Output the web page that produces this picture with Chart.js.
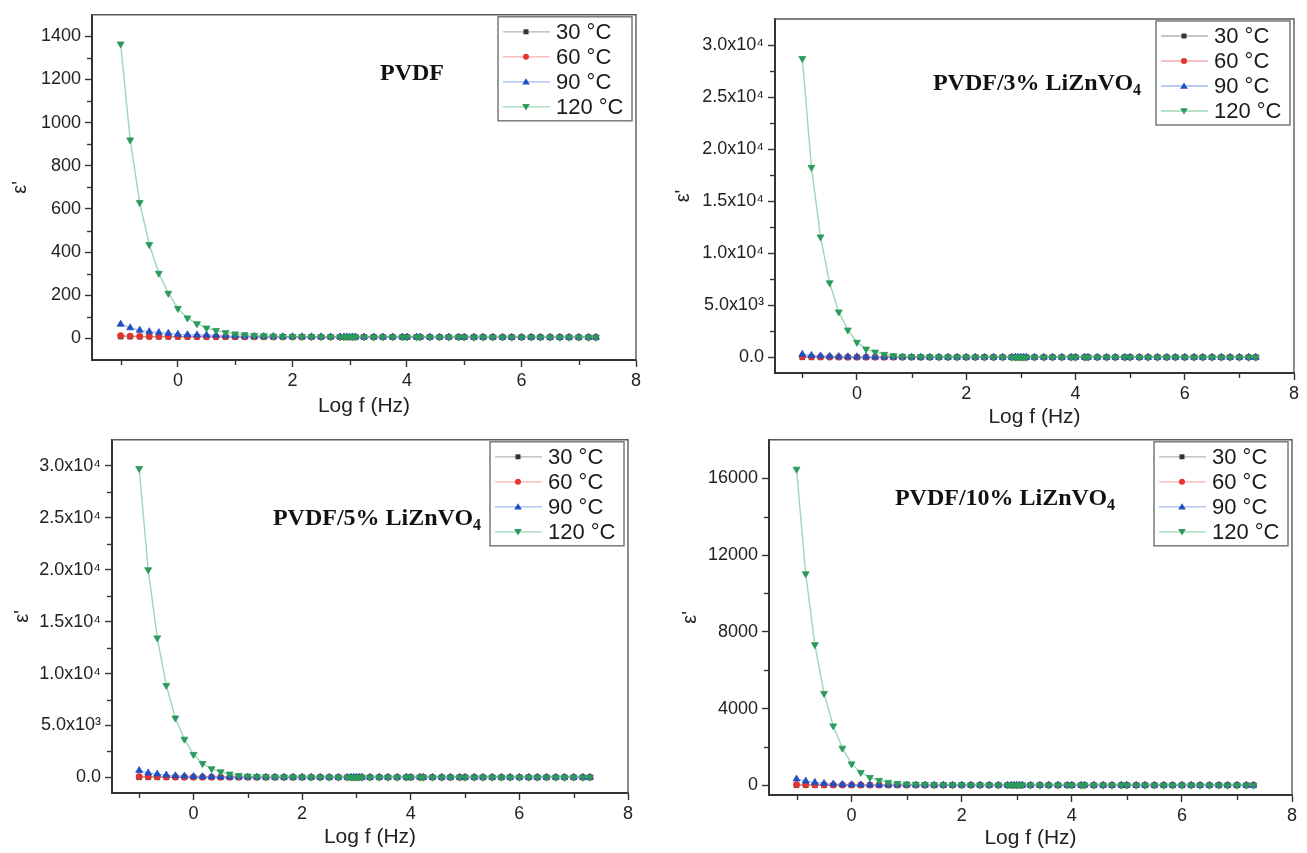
<!DOCTYPE html>
<html>
<head>
<meta charset="utf-8">
<script src="https://cdn.jsdelivr.net/npm/chart.js@4.4.1/dist/chart.umd.min.js"></script>
<style>
  html, body { margin: 0; padding: 0; background: #ffffff; }
  body { width: 1307px; height: 853px; position: relative; overflow: hidden; }
  canvas { position: absolute; }
</style>
</head>
<body>
<canvas id="c1" width="650" height="420" style="left:0px;top:0px"></canvas>
<canvas id="c2" width="657" height="432" style="left:650px;top:0px"></canvas>
<canvas id="c3" width="650" height="428" style="left:0px;top:425px"></canvas>
<canvas id="c4" width="657" height="428" style="left:650px;top:425px"></canvas>
<script>
// ---- frequency axis (log10 of f in Hz) ----
const logF = [
  -1, -0.833, -0.667, -0.5, -0.333, -0.167, 0, 0.167, 0.333, 0.5, 0.667, 0.833,
  1, 1.167, 1.333, 1.5, 1.667, 1.833, 2, 2.167, 2.333, 2.5, 2.667, 2.833,
  2.9, 2.95, 3.0, 3.05, 3.1,
  3.25, 3.42, 3.58, 3.75, 3.92, 4.0, 4.17, 4.23, 4.4, 4.57, 4.73, 4.9, 5.0,
  5.17, 5.33, 5.5, 5.67, 5.83, 6.0, 6.17, 6.33, 6.5, 6.67, 6.83, 7.0, 7.17, 7.3
];

// ---- legend labels ----
const tempLabels = ['30 °C', '60 °C', '90 °C', '120 °C'];

// ---- PVDF ----
const pvdf30 = [8.6, 8.3, 8.1, 7.9, 7.8, 7.7, 7.6, 7.5, 7.4, 7.3, 7.3, 7.2, 7.2, 7.1, 7.1, 7.0, 7.0, 6.9, 6.9, 6.9, 6.8, 6.8, 6.8, 6.7,
  6.7, 6.7, 6.6, 6.6, 6.6,
  6.5, 6.5, 6.4, 6.4, 6.4, 6.3, 6.3, 6.3, 6.2, 6.2, 6.1, 6.1, 6.0, 6.0, 5.9, 5.9, 5.8, 5.8, 5.7, 5.7, 5.6, 5.6, 5.5, 5.4, 5.3, 5.2, 5.1];
const pvdf60 = [13, 11, 10, 9.4, 9.0, 8.6, 8.3, 8.1, 7.9, 7.7, 7.6, 7.5, 7.4, 7.3, 7.2, 7.1, 7.0, 7.0, 6.9, 6.9, 6.8, 6.8, 6.7, 6.7,
  6.7, 6.7, 6.6, 6.6, 6.6,
  6.5, 6.5, 6.4, 6.4, 6.3, 6.3, 6.3, 6.2, 6.2, 6.1, 6.1, 6.0, 6.0, 6.0, 5.9, 5.9, 5.8, 5.8, 5.7, 5.7, 5.6, 5.6, 5.5, 5.4, 5.3, 5.2, 5.1];
const pvdf90 = [66, 49, 38, 31, 27, 24, 19, 17, 16, 15, 14, 12, 11, 10, 9.5, 9.0, 8.6, 8.3, 8.0, 7.8, 7.6, 7.4, 7.3, 7.2,
  7.1, 7.1, 7.0, 7.0, 6.9,
  6.8, 6.7, 6.6, 6.5, 6.4, 6.4, 6.3, 6.3, 6.2, 6.2, 6.1, 6.1, 6.0, 6.0, 5.9, 5.9, 5.8, 5.8, 5.7, 5.7, 5.6, 5.5, 5.5, 5.4, 5.3, 5.2, 5.1];
const pvdf120 = [1365, 920, 630, 435, 302, 209, 139, 95, 68, 48, 37, 27, 21, 17, 14, 12, 10.5, 9.6, 8.9, 8.4, 8.0, 7.7, 7.5, 7.3,
  7.2, 7.2, 7.1, 7.1, 7.0,
  6.9, 6.8, 6.7, 6.6, 6.5, 6.5, 6.4, 6.4, 6.3, 6.2, 6.2, 6.1, 6.1, 6.0, 6.0, 5.9, 5.9, 5.8, 5.8, 5.7, 5.7, 5.6, 5.5, 5.5, 5.4, 5.3, 5.2];

// ---- PVDF / 3% LiZnVO4 ----
const lz3_30 = [12, 11.6, 11.3, 11.1, 10.9, 10.8, 10.7, 10.6, 10.5, 10.4, 10.3, 10.3, 10.2, 10.2, 10.1, 10.1, 10, 10, 9.9, 9.9, 9.9, 9.8, 9.8, 9.8,
  9.7, 9.7, 9.7, 9.7, 9.6,
  9.6, 9.5, 9.5, 9.4, 9.4, 9.4, 9.3, 9.3, 9.2, 9.2, 9.1, 9.1, 9.0, 9.0, 8.9, 8.9, 8.8, 8.8, 8.7, 8.7, 8.6, 8.6, 8.5, 8.4, 8.3, 8.2, 8.1];
const lz3_60 = [60, 45, 36, 30, 26, 23, 21, 19, 18, 17, 16, 15.5, 15, 14.6, 14.2, 13.9, 13.6, 13.4, 13.2, 13, 12.8, 12.7, 12.6, 12.5,
  12.4, 12.4, 12.3, 12.3, 12.2,
  12.1, 12, 11.9, 11.8, 11.7, 11.7, 11.6, 11.5, 11.4, 11.3, 11.2, 11.1, 11, 10.9, 10.8, 10.7, 10.6, 10.5, 10.4, 10.3, 10.2, 10.1, 10, 9.9, 9.8, 9.7, 9.5];
const lz3_90 = [290, 190, 140, 105, 80, 64, 52, 44, 38, 33, 30, 27, 25, 23, 22, 21, 20, 19, 18, 17.5, 17, 16.5, 16, 15.5,
  15.4, 15.3, 15.2, 15.1, 15,
  14.8, 14.5, 14.2, 14, 13.8, 13.7, 13.5, 13.4, 13.2, 13, 12.8, 12.6, 12.5, 12.3, 12.1, 12, 11.8, 11.6, 11.5, 11.3, 11.1, 11, 10.8, 10.6, 10.4, 10.2, 10];
const lz3_120 = [28700, 18250, 11570, 7160, 4370, 2630, 1450, 800, 510, 290, 160, 96, 70, 55, 45, 38, 33, 30, 27, 25, 23, 22, 21, 20,
  20, 19, 19, 19, 18,
  18, 17, 17, 16, 16, 16, 15, 15, 15, 14, 14, 14, 14, 13, 13, 13, 13, 12, 12, 12, 12, 11, 11, 11, 11, 10, 10];

// ---- PVDF / 5% LiZnVO4 ----
const lz5_30 = [13, 12.6, 12.3, 12.1, 11.9, 11.8, 11.7, 11.6, 11.5, 11.4, 11.3, 11.3, 11.2, 11.2, 11.1, 11.1, 11, 11, 10.9, 10.9, 10.9, 10.8, 10.8, 10.8,
  10.7, 10.7, 10.7, 10.6, 10.6,
  10.6, 10.5, 10.5, 10.4, 10.4, 10.4, 10.3, 10.3, 10.2, 10.2, 10.1, 10.1, 10, 10, 9.9, 9.9, 9.8, 9.8, 9.7, 9.7, 9.6, 9.6, 9.5, 9.4, 9.3, 9.2, 9.1];
const lz5_60 = [90, 65, 50, 40, 33, 28, 25, 22, 20, 19, 18, 17, 16.5, 16, 15.5, 15, 14.7, 14.4, 14.2, 14, 13.8, 13.6, 13.5, 13.4,
  13.3, 13.3, 13.2, 13.2, 13.1,
  13, 12.9, 12.8, 12.7, 12.6, 12.6, 12.5, 12.4, 12.3, 12.2, 12.1, 12, 11.9, 11.8, 11.7, 11.6, 11.5, 11.4, 11.3, 11.2, 11.1, 11, 10.9, 10.8, 10.7, 10.6, 10.4];
const lz5_90 = [670, 420, 320, 225, 160, 128, 96, 75, 60, 50, 43, 38, 34, 31, 28, 26, 24, 23, 22, 21, 20, 19.5, 19, 18.5,
  18.3, 18.2, 18, 17.9, 17.8,
  17.5, 17.2, 17, 16.7, 16.5, 16.4, 16.2, 16.1, 15.9, 15.7, 15.5, 15.3, 15.2, 15, 14.8, 14.6, 14.4, 14.2, 14, 13.8, 13.6, 13.4, 13.2, 13, 12.8, 12.6, 12.4];
const lz5_120 = [29740, 19990, 13430, 8860, 5720, 3680, 2210, 1340, 830, 540, 320, 190, 120, 85, 65, 52, 44, 38, 34, 31, 28, 26, 25, 24,
  23, 23, 22, 22, 22,
  21, 20, 20, 19, 19, 18, 18, 18, 17, 17, 16, 16, 16, 15, 15, 15, 14, 14, 14, 13, 13, 13, 12, 12, 12, 11, 11];

// ---- PVDF / 10% LiZnVO4 ----
const lz10_30 = [11.5, 11.2, 11, 10.8, 10.7, 10.6, 10.5, 10.4, 10.3, 10.3, 10.2, 10.2, 10.1, 10.1, 10, 10, 9.9, 9.9, 9.9, 9.8, 9.8, 9.8, 9.7, 9.7,
  9.7, 9.6, 9.6, 9.6, 9.6,
  9.5, 9.5, 9.4, 9.4, 9.4, 9.3, 9.3, 9.3, 9.2, 9.2, 9.1, 9.1, 9, 9, 8.9, 8.9, 8.8, 8.8, 8.7, 8.7, 8.6, 8.6, 8.5, 8.4, 8.3, 8.2, 8.1];
const lz10_60 = [40, 32, 27, 23, 21, 19, 18, 17, 16, 15.5, 15, 14.6, 14.2, 13.9, 13.6, 13.4, 13.2, 13, 12.9, 12.8, 12.7, 12.6, 12.5, 12.4,
  12.3, 12.3, 12.3, 12.2, 12.2,
  12.1, 12, 11.9, 11.8, 11.7, 11.7, 11.6, 11.5, 11.4, 11.3, 11.2, 11.1, 11, 10.9, 10.8, 10.7, 10.6, 10.5, 10.4, 10.3, 10.2, 10.1, 10, 9.9, 9.8, 9.7, 9.5];
const lz10_90 = [330, 225, 156, 104, 70, 52, 38, 31, 27, 24, 22, 20, 19, 18, 17, 16.5, 16, 15.5, 15, 14.7, 14.4, 14.1, 13.9, 13.7,
  13.6, 13.6, 13.5, 13.5, 13.4,
  13.2, 13, 12.9, 12.7, 12.6, 12.5, 12.4, 12.3, 12.2, 12.1, 12, 11.9, 11.8, 11.7, 11.6, 11.5, 11.4, 11.3, 11.2, 11.1, 11, 10.9, 10.8, 10.7, 10.6, 10.5, 10.3];
const lz10_120 = [16470, 11020, 7330, 4790, 3100, 1940, 1120, 675, 415, 260, 156, 104, 75, 58, 47, 40, 35, 31, 28, 26, 24, 23, 22, 21,
  21, 20, 20, 20, 19,
  19, 18, 18, 17, 17, 17, 16, 16, 16, 15, 15, 15, 14, 14, 14, 13, 13, 13, 12, 12, 12, 11, 11, 11, 10, 10, 10];

// ---- tick values and labels ----
const xTickValues = [0, 2, 4, 6, 8];
const xTickLabels = ['0', '2', '4', '6', '8'];
const xMinorTicks = [-1, 1, 3, 5, 7];

const yTicksPVDF = [0, 200, 400, 600, 800, 1000, 1200, 1400];
const yLabelsPVDF = ['0', '200', '400', '600', '800', '1000', '1200', '1400'];
const yMinorPVDF = [100, 300, 500, 700, 900, 1100, 1300];

const yTicksComposite = [0, 5000, 10000, 15000, 20000, 25000, 30000];
const yLabelsComposite = ['0.0', '5.0x10³', '1.0x10⁴', '1.5x10⁴', '2.0x10⁴', '2.5x10⁴', '3.0x10⁴'];
const yMinorComposite = [2500, 7500, 12500, 17500, 22500, 27500];

const yTicks10 = [0, 4000, 8000, 12000, 16000];
const yLabels10 = ['0', '4000', '8000', '12000', '16000'];
const yMinor10 = [2000, 6000, 10000, 14000];

// ---- styling ----
const SANS = '"Liberation Sans", Arial, sans-serif';
const SERIF = '"Liberation Serif", "Times New Roman", serif';
const seriesStyle = [
  { marker: '#333333', line: 'rgba(120,120,120,0.55)', shape: 'square' },
  { marker: '#e2332f', line: 'rgba(235,110,105,0.55)', shape: 'circle' },
  { marker: '#1f4fc2', line: 'rgba(90,135,220,0.55)', shape: 'up' },
  { marker: '#2b9a5b', line: 'rgba(90,190,130,0.6)', shape: 'down' }
];

function drawMarker(ctx, shape, x, y, color) {
  ctx.save();
  ctx.fillStyle = color;
  ctx.beginPath();
  if (shape === 'square') {
    ctx.rect(x - 2.5, y - 2.5, 5, 5);
  } else if (shape === 'circle') {
    ctx.arc(x, y, 3, 0, Math.PI * 2);
  } else if (shape === 'up') {
    ctx.moveTo(x, y - 3.6); ctx.lineTo(x + 3.8, y + 2.8); ctx.lineTo(x - 3.8, y + 2.8); ctx.closePath();
  } else {
    ctx.moveTo(x, y + 3.6); ctx.lineTo(x + 3.8, y - 2.8); ctx.lineTo(x - 3.8, y - 2.8); ctx.closePath();
  }
  ctx.fill();
  ctx.restore();
}

// Frame, minor ticks, legend box and the sample name
const panelDeco = {
  id: 'panelDeco',
  afterDraw(chart, args, opts) {
    const { ctx, chartArea: a } = chart;
    const xs = chart.scales.x, ys = chart.scales.y;
    ctx.save();
    // top / right frame
    ctx.strokeStyle = '#5a5a5a';
    ctx.lineWidth = 1.4;
    ctx.beginPath();
    ctx.moveTo(a.left, a.top); ctx.lineTo(a.right, a.top); ctx.lineTo(a.right, a.bottom);
    ctx.stroke();
    // minor ticks
    ctx.strokeStyle = '#333';
    ctx.lineWidth = 1.4;
    opts.xMinor.forEach(v => {
      const px = Math.round(xs.getPixelForValue(v)) + 0.5;
      ctx.beginPath(); ctx.moveTo(px, a.bottom + 1); ctx.lineTo(px, a.bottom + 5); ctx.stroke();
    });
    opts.yMinor.forEach(v => {
      const py = Math.round(ys.getPixelForValue(v)) + 0.5;
      ctx.beginPath(); ctx.moveTo(a.left - 1, py); ctx.lineTo(a.left - 5, py); ctx.stroke();
    });
    // legend
    const bw = 134, bh = 104;
    const bx = a.right - 4 - bw, by = a.top + 2;
    ctx.fillStyle = '#ffffff';
    ctx.fillRect(bx, by, bw, bh);
    ctx.strokeStyle = '#7a7a7a';
    ctx.lineWidth = 1.5;
    ctx.strokeRect(bx, by, bw, bh);
    ctx.font = '22px ' + SANS;
    ctx.textBaseline = 'middle';
    ctx.textAlign = 'left';
    tempLabels.forEach((lab, i) => {
      const st = seriesStyle[i];
      const cy = by + 15 + i * 25;
      ctx.strokeStyle = st.line;
      ctx.lineWidth = 1.3;
      ctx.beginPath(); ctx.moveTo(bx + 5, cy); ctx.lineTo(bx + 52, cy); ctx.stroke();
      drawMarker(ctx, st.shape, bx + 28, cy, st.marker);
      ctx.fillStyle = '#1a1a1a';
      ctx.fillText(lab, bx + 58, cy + 1);
    });
    // sample name, bold serif, subscript on the last part
    const t = opts.name;
    ctx.fillStyle = '#111';
    ctx.textBaseline = 'alphabetic';
    ctx.font = 'bold 24px ' + SERIF;
    const w1 = ctx.measureText(t.main).width;
    ctx.font = 'bold 16px ' + SERIF;
    const w2 = t.sub ? ctx.measureText(t.sub).width : 0;
    const x0 = t.x - (w1 + w2) / 2;
    ctx.font = 'bold 24px ' + SERIF;
    ctx.fillText(t.main, x0, t.y + 8);
    if (t.sub) {
      ctx.font = 'bold 16px ' + SERIF;
      ctx.fillText(t.sub, x0 + w1, t.y + 13);
    }
    ctx.restore();
  }
};

function makeDatasets(series) {
  // drawn so that 120 °C sits on top: first dataset is painted last
  const order = [3, 2, 1, 0];
  return order.map(k => ({
    label: tempLabels[k],
    data: series[k].map((v, i) => ({ x: logF[i], y: v })),
    showLine: true,
    borderColor: seriesStyle[k].line,
    borderWidth: 1.4,
    backgroundColor: seriesStyle[k].marker,
    pointBackgroundColor: seriesStyle[k].marker,
    pointBorderColor: seriesStyle[k].marker,
    pointBorderWidth: 0.8,
    pointStyle: seriesStyle[k].shape === 'square' ? 'rect' : (seriesStyle[k].shape === 'circle' ? 'circle' : 'triangle'),
    pointRotation: seriesStyle[k].shape === 'down' ? 180 : 0,
    pointRadius: seriesStyle[k].shape === 'circle' ? 3 : (seriesStyle[k].shape === 'square' ? 3.4 : 4),
    tension: 0
  }));
}

function makePanel(id, p) {
  new Chart(document.getElementById(id), {
    type: 'scatter',
    data: { datasets: makeDatasets(p.series) },
    options: {
      responsive: false,
      animation: false,
      devicePixelRatio: 1,
      layout: { padding: { top: p.padTop, right: p.padRight, left: 0, bottom: 0 } },
      plugins: {
        legend: { display: false },
        tooltip: { enabled: false },
        panelDeco: { xMinor: xMinorTicks, yMinor: p.yMinor, name: p.name }
      },
      scales: {
        x: {
          type: 'linear', min: -1.5, max: 8,
          afterBuildTicks: s => { s.ticks = xTickValues.map(v => ({ value: v })); },
          ticks: {
            callback: v => xTickLabels[xTickValues.indexOf(v)],
            font: { family: SANS, size: 18 }, color: '#222', padding: 3, maxRotation: 0
          },
          grid: { drawOnChartArea: false, drawTicks: true, tickLength: 7, tickWidth: 1.4, tickColor: '#333' },
          border: { display: true, color: '#333', width: 2 },
          title: { display: true, text: 'Log f (Hz)', font: { family: SANS, size: 21 }, color: '#222', padding: { top: 0, bottom: p.xTitleBottom } },
          afterFit: s => { s.height = p.xHeight; }
        },
        y: {
          type: 'linear', min: p.yMin, max: p.yMax,
          afterBuildTicks: s => { s.ticks = p.yTicks.map(v => ({ value: v })); },
          ticks: {
            callback: v => p.yLabels[p.yTicks.indexOf(v)],
            font: { family: SANS, size: 18 }, color: '#222', padding: 4
          },
          grid: { drawOnChartArea: false, drawTicks: true, tickLength: 7, tickWidth: 1.4, tickColor: '#333' },
          border: { display: true, color: '#333', width: 2 },
          title: { display: true, text: "ε'", font: { family: SANS, size: 20 }, color: '#222', padding: { top: p.yTitlePad, bottom: 0 } },
          afterFit: s => { s.width = p.yWidth; }
        }
      }
    },
    plugins: [panelDeco]
  });
}

makePanel('c1', {
  series: [pvdf30, pvdf60, pvdf90, pvdf120],
  yMin: -100, yMax: 1500, yTicks: yTicksPVDF, yLabels: yLabelsPVDF, yMinor: yMinorPVDF,
  padTop: 11, padRight: 14, yWidth: 92, xHeight: 60, xTitleBottom: 1, yTitlePad: 8,
  name: { main: 'PVDF', sub: '', x: 412, y: 72 }
});
makePanel('c2', {
  series: [lz3_30, lz3_60, lz3_90, lz3_120],
  yMin: -1500, yMax: 32500, yTicks: yTicksComposite, yLabels: yLabelsComposite, yMinor: yMinorComposite,
  padTop: 19, padRight: 13, yWidth: 125, xHeight: 59, xTitleBottom: 2, yTitlePad: 21,
  name: { main: 'PVDF/3% LiZnVO', sub: '4', x: 387, y: 82 }
});
makePanel('c3', {
  series: [lz5_30, lz5_60, lz5_90, lz5_120],
  yMin: -1500, yMax: 32500, yTicks: yTicksComposite, yLabels: yLabelsComposite, yMinor: yMinorComposite,
  padTop: 14, padRight: 22, yWidth: 112, xHeight: 60, xTitleBottom: 3, yTitlePad: 10,
  name: { main: 'PVDF/5% LiZnVO', sub: '4', x: 377, y: 92 }
});
makePanel('c4', {
  series: [lz10_30, lz10_60, lz10_90, lz10_120],
  yMin: -500, yMax: 18000, yTicks: yTicks10, yLabels: yLabels10, yMinor: yMinor10,
  padTop: 14, padRight: 15, yWidth: 119, xHeight: 58, xTitleBottom: 2, yTitlePad: 28,
  name: { main: 'PVDF/10% LiZnVO', sub: '4', x: 355, y: 72 }
});
</script>
</body>
</html>
